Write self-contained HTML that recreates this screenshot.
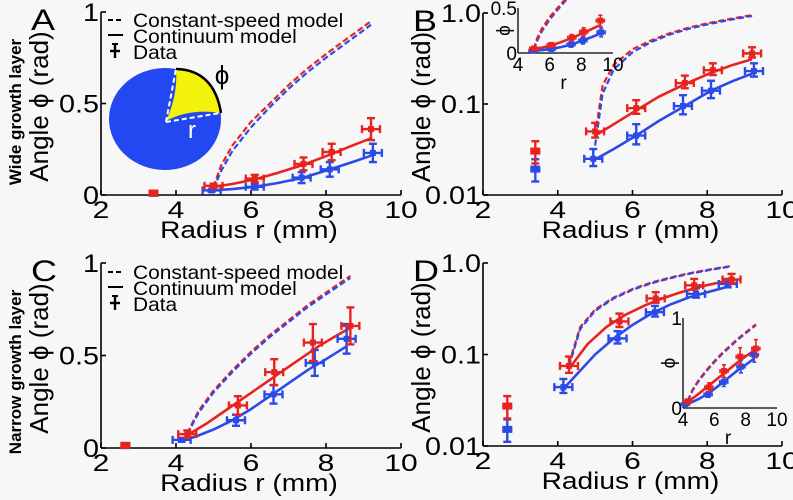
<!DOCTYPE html>
<html><head><meta charset="utf-8">
<style>
html,body{margin:0;padding:0;background:#f7f7f7;}
svg{display:block;font-family:"Liberation Sans",sans-serif;}
</style></head>
<body>
<svg id="fig" width="793" height="500" viewBox="0 0 793 500" xmlns="http://www.w3.org/2000/svg">
<rect width="793" height="500" fill="#f7f7f7"/>
</svg>
<script>
// ---- Data: wide growth layer (A/B) ----
const wideRedX = [5.0, 6.1, 7.4, 8.15, 9.2];
const wideRedY = [0.05, 0.09, 0.17, 0.235, 0.36];
const wideRedErr = [0.012, 0.02, 0.035, 0.045, 0.06];
const wideBlueX = [4.95, 6.1, 7.35, 8.1, 9.25];
const wideBlueY = [0.025, 0.045, 0.095, 0.14, 0.23];
const wideBlueErr = [0.007, 0.015, 0.03, 0.04, 0.05];
const wideOutX = [3.4];
const wideOutRed = [0.03];
const wideOutBlue = [0.019];
const wideRedLineX = [5.0, 5.5, 6.1, 6.7, 7.4, 8.1, 8.7, 9.2];
const wideRedLineY = [0.045, 0.06, 0.085, 0.12, 0.165, 0.22, 0.27, 0.31];
const wideBlueLineX = [4.95, 5.5, 6.1, 6.7, 7.4, 8.1, 8.7, 9.2];
const wideBlueLineY = [0.024, 0.032, 0.045, 0.065, 0.095, 0.14, 0.18, 0.215];
const wideDashX = [5.0, 5.2, 5.5, 6.0, 6.5, 7.0, 7.5, 8.0, 8.6, 9.2];
const wideDashRedY = [0.045, 0.16, 0.27, 0.4, 0.5, 0.6, 0.69, 0.77, 0.86, 0.95];
const wideDashBlueY = [0.035, 0.13, 0.24, 0.37, 0.48, 0.58, 0.67, 0.75, 0.84, 0.93];
// ---- Data: narrow growth layer (C/D) ----
const narRedX = [4.3, 5.65, 6.62, 7.65, 8.65];
const narRedY = [0.075, 0.23, 0.41, 0.57, 0.66];
const narRedErr = [0.02, 0.05, 0.07, 0.1, 0.1];
const narBlueX = [4.15, 5.6, 6.6, 7.7, 8.55];
const narBlueY = [0.044, 0.15, 0.29, 0.46, 0.59];
const narBlueErr = [0.01, 0.03, 0.05, 0.07, 0.08];
const narOutX = [2.65];
const narOutRed = [0.027];
const narOutBlue = [0.015];
const narRedLineX = [4.3, 4.8, 5.3, 5.8, 6.3, 6.8, 7.3, 7.8, 8.3, 8.65];
const narRedLineY = [0.07, 0.13, 0.2, 0.27, 0.34, 0.41, 0.48, 0.55, 0.61, 0.65];
const narBlueLineX = [4.1, 4.5, 5.0, 5.5, 6.0, 6.5, 7.0, 7.5, 8.0, 8.55];
const narBlueLineY = [0.04, 0.06, 0.1, 0.15, 0.21, 0.28, 0.35, 0.42, 0.48, 0.55];
const narDashX = [4.3, 4.6, 5.0, 5.5, 6.0, 6.5, 7.0, 7.5, 8.0, 8.65];
const narDashRedY = [0.08, 0.2, 0.31, 0.42, 0.52, 0.61, 0.69, 0.77, 0.84, 0.93];
const narDashBlueY = [0.075, 0.19, 0.3, 0.41, 0.51, 0.6, 0.68, 0.76, 0.83, 0.92];
// ---- Tick labels ----
const xTicks = [2, 4, 6, 8, 10];
const linTicks = [0, 0.5, 1];
const linTickLabels = ["0", "0.5", "1"];
const logTicks = [0.01, 0.1, 1.0];
const logTickLabels = ["0.01", "0.1", "1.0"];
const insetXTicks = [4, 6, 8, 10];

const NS = "http://www.w3.org/2000/svg";
const svg = document.getElementById("fig");
const RED = "#e8231f", BLUE = "#2b4ae8";
const PHI = "\u03d5";
function mk(tag, attrs, parent) {
  const e = document.createElementNS(NS, tag);
  for (const k in attrs) e.setAttribute(k, attrs[k]);
  (parent || svg).appendChild(e);
  return e;
}
function txt(s, x, y, size, anchor, parent, extra) {
  const t = mk("text", Object.assign({x: x, y: y, "font-size": size, "text-anchor": anchor || "middle", fill: "#000"}, extra || {}), parent);
  t.textContent = s;
  return t;
}
// stretched text (reference glyphs are horizontally stretched)
function stxt(s, x, y, size, anchor, parent, sx) {
  return txt(s, 0, 0, size, anchor, parent, {transform: "translate(" + x + "," + y + ") scale(" + sx + ",1)"});
}
function makeAxes(x0, x1, xmin, xmax, y0, y1, ymin, ymax, log) {
  const sx = v => x0 + (v - xmin) / (xmax - xmin) * (x1 - x0);
  const sy = log ? (v => y0 - (Math.log10(v) - Math.log10(ymin)) / (Math.log10(ymax) - Math.log10(ymin)) * (y0 - y1))
                 : (v => y0 - (v - ymin) / (ymax - ymin) * (y0 - y1));
  return {sx, sy};
}
function line(ax, xs, ys, color, dashed, g, name, clip) {
  let d = "";
  xs.forEach((x, i) => { d += (i ? "L" : "M") + ax.sx(x).toFixed(1) + "," + ax.sy(ys[i]).toFixed(1); });
  const p = mk("path", {d: d, fill: "none", stroke: color, "stroke-width": dashed ? 2.2 : 2.6, "stroke-dasharray": dashed ? "6,3" : "none"}, g);
  if (clip) p.setAttribute("clip-path", clip);
  
  
}
function points(ax, xs, ys, errs, color, g, name, log, hw, cap, sw) {
  xs.forEach((x, i) => {
    const cx = ax.sx(x), cy = ax.sy(ys[i]);
    const lo = log ? ys[i] - errs[i] * 0.6 : ys[i] - errs[i];
    const top = ax.sy(ys[i] + errs[i]);
    const bot = ax.sy(Math.max(lo, log ? 0.001 : ys[i] - errs[i]));
    const pg = mk("g", {stroke: color, "stroke-width": sw || 2.4, fill: "none"}, g);
    
    
    mk("line", {x1: cx, y1: top, x2: cx, y2: bot}, pg);
    mk("line", {x1: cx - cap, y1: top, x2: cx + cap, y2: top}, pg);
    mk("line", {x1: cx - cap, y1: bot, x2: cx + cap, y2: bot}, pg);
    mk("line", {x1: cx - hw, y1: cy, x2: cx + hw, y2: cy}, pg);
    mk("line", {x1: cx - hw, y1: cy - cap, x2: cx - hw, y2: cy + cap}, pg);
    mk("line", {x1: cx + hw, y1: cy - cap, x2: cx + hw, y2: cy + cap}, pg);
    mk("rect", {x: cx - 3, y: cy - 3, width: 6, height: 6, fill: color, stroke: "none"}, pg);
  });
}
function outliers(ax, xs, ys, color, g, name, log) {
  xs.forEach((x, i) => {
    const cx = ax.sx(x), cy = ax.sy(ys[i]);
    const pg = mk("g", {stroke: color, "stroke-width": 2.4}, g);
    
    
    if (log) {
      const t = ax.sy(ys[i] * 1.3), b = ax.sy(ys[i] / 1.35);
      mk("line", {x1: cx, y1: t, x2: cx, y2: b}, pg);
      mk("line", {x1: cx - 4, y1: t, x2: cx + 4, y2: t}, pg);
      mk("line", {x1: cx - 4, y1: b, x2: cx + 4, y2: b}, pg);
      mk("line", {x1: cx - 5, y1: cy, x2: cx + 5, y2: cy}, pg);
    }
    mk("rect", {x: cx - 5, y: cy - 4, width: 10, height: 7, fill: color, stroke: "none"}, pg);
  });
}

function panel(opts) {
  const g = mk("g", {});
  
  
  const ax = makeAxes(opts.x0, opts.x1, 2, 10, opts.y0, opts.y1, opts.ymin, opts.ymax, opts.log);
  const cid = opts.name + "-clip";
  const cp = mk("clipPath", {id: cid}, g);
  mk("rect", {x: opts.x0, y: opts.y1 - 4, width: opts.x1 - opts.x0 + 10, height: opts.y0 - opts.y1 + 4}, cp);
  const axg = mk("g", {stroke: "#000", "stroke-width": 1.6}, g);
  
  
  mk("line", {x1: opts.x0, y1: opts.y0, x2: opts.x1, y2: opts.y0}, axg);
  mk("line", {x1: opts.x0, y1: opts.y0, x2: opts.x0, y2: opts.y1}, axg);
  xTicks.forEach(v => {
    mk("line", {x1: ax.sx(v), y1: opts.y0, x2: ax.sx(v), y2: opts.y0 - 5}, axg);
    const t = stxt(String(v), ax.sx(v), opts.y0 + 23, 24, "middle", g, 1.25);
    
    
  });
  const yt = opts.log ? logTicks : linTicks;
  const yl = opts.log ? logTickLabels : linTickLabels;
  yt.forEach((v, i) => {
    mk("line", {x1: opts.x0, y1: ax.sy(v), x2: opts.x0 + 5, y2: ax.sy(v)}, axg);
    const t = stxt(yl[i], opts.x0 - 2, ax.sy(v) + 9, 25, "end", g, 1.15);
    
    
  });
  const xt = stxt("Radius r (mm)", (opts.x0 + opts.x1) / 2 - 2, opts.y0 + 43, 24, "middle", g, 1.17);
  
  
  const ytl = txt("Angle " + PHI + "  (rad)", 0, 0, 26, "middle", g, {transform: "translate(" + (opts.x0 - 53) + "," + ((opts.y0 + opts.y1) / 2 + 3) + ") rotate(-90)"});
  
  
  const lt = stxt(opts.letter, opts.x0 - 70, opts.y1 + 18, 30, "start", g, 1.2);
  
  
  const d = opts.data;
  line(ax, d.dashX, d.dashRed, RED, true, g, "constant-speed-red", "url(#" + cid + ")");
  line(ax, d.dashX, d.dashBlue, BLUE, true, g, "constant-speed-blue", "url(#" + cid + ")");
  line(ax, d.rlx, d.rly, RED, false, g, "continuum-red");
  line(ax, d.blx, d.bly, BLUE, false, g, "continuum-blue");
  outliers(ax, d.ox, d.oBlue, BLUE, g, "outlier-blue", opts.log);
  outliers(ax, d.ox, d.oRed, RED, g, "outlier-red", opts.log);
  points(ax, d.bx, d.by, d.be, BLUE, g, "data-blue", opts.log, 9, 4);
  points(ax, d.rx, d.ry, d.re, RED, g, "data-red", opts.log, 9, 4);
  return g;
}
function inset(opts) {
  const g = mk("g", {});
  
  
  const ax = makeAxes(opts.x0, opts.x1, 4, 10, opts.y0, opts.y1, 0, opts.ymax, false);
  const cid = opts.name + "-clip";
  const cp = mk("clipPath", {id: cid}, g);
  mk("rect", {x: opts.x0, y: 0, width: opts.x1 - opts.x0, height: opts.y0 + 2}, cp);
  const axg = mk("g", {stroke: "#000", "stroke-width": 1.3}, g);
  mk("line", {x1: opts.x0, y1: opts.y0, x2: opts.x1, y2: opts.y0}, axg);
  mk("line", {x1: opts.x0, y1: opts.y0, x2: opts.x0, y2: opts.y1}, axg);
  insetXTicks.forEach(v => {
    const t = txt(String(v), ax.sx(v), opts.y0 + 18, 19, "middle", g);
    
    
  });
  [0, opts.ymax].forEach(v => {
    const t = txt(String(v), opts.x0 - 1, ax.sy(v) + 7, 19, "end", g);
    
    
  });
  txt("r", (opts.x0 + opts.x1) / 2 - 2, opts.y0 + 36, 19, "middle", g);
  txt(PHI, opts.x0 - 14, (opts.y0 + opts.y1) / 2 + 6, 19, "middle", g, {transform: "rotate(-90 " + (opts.x0 - 14) + " " + ((opts.y0 + opts.y1) / 2) + ")"});
  const d = opts.data;
  const cl = "url(#" + cid + ")";
  line(ax, d.dashX, d.dashRed, RED, true, g, "inset-dash-red", cl);
  line(ax, d.dashX, d.dashBlue, "#7a3aa0", true, g, "inset-dash-blue", cl);
  line(ax, d.rlx, d.rly, RED, false, g, "inset-red", cl);
  line(ax, d.blx, d.bly, BLUE, false, g, "inset-blue", cl);
  points(ax, d.bx, d.by, d.be, BLUE, g, "inset-blue-pt", false, 4, 2, 1.6);
  points(ax, d.rx, d.ry, d.re, RED, g, "inset-red-pt", false, 4, 2, 1.6);
}
const wide = {dashX: wideDashX, dashRed: wideDashRedY, dashBlue: wideDashBlueY, rlx: wideRedLineX, rly: wideRedLineY, blx: wideBlueLineX, bly: wideBlueLineY,
  ox: wideOutX, oRed: wideOutRed, oBlue: wideOutBlue, rx: wideRedX, ry: wideRedY, re: wideRedErr, bx: wideBlueX, by: wideBlueY, be: wideBlueErr};
const nar = {dashX: narDashX, dashRed: narDashRedY, dashBlue: narDashBlueY, rlx: narRedLineX, rly: narRedLineY, blx: narBlueLineX, bly: narBlueLineY,
  ox: narOutX, oRed: narOutRed, oBlue: narOutBlue, rx: narRedX, ry: narRedY, re: narRedErr, bx: narBlueX, by: narBlueY, be: narBlueErr};
const wideLin = Object.assign({}, wide, {oRed: [0.008], oBlue: [0.006]});
const narLin = Object.assign({}, nar, {oRed: [0.012], oBlue: [0.01]});

const pie = mk("g", {});


mk("ellipse", {cx: 165, cy: 119, rx: 56, ry: 51, fill: "#2347f0"}, pie);
mk("path", {d: "M166,121 Q178,95 176,69 Q214,70 221,113 Q190,108 166,121 Z", fill: "#f2f20a"}, pie);
mk("path", {d: "M176,69 Q214,70 221,113", fill: "none", stroke: "#000", "stroke-width": 2.5}, pie);
mk("line", {x1: 166, y1: 122, x2: 176, y2: 69, stroke: "#fff", "stroke-width": 2, "stroke-dasharray": "5,3"}, pie);
mk("line", {x1: 166, y1: 122, x2: 220, y2: 113, stroke: "#fff", "stroke-width": 2, "stroke-dasharray": "5,3"}, pie);
txt("r", 192, 138, 24, "middle", pie, {fill: "#fff"});
txt(PHI, 222, 84, 26, "middle", pie);

panel({name: "panel-a", letter: "A", x0: 101, x1: 401, y0: 195, y1: 12, ymin: 0, ymax: 1, log: false, data: wideLin});
panel({name: "panel-b", letter: "B", x0: 483, x1: 782, y0: 195, y1: 13, ymin: 0.01, ymax: 1, log: true, data: wide});
panel({name: "panel-c", letter: "C", x0: 101, x1: 401, y0: 448, y1: 263, ymin: 0, ymax: 1, log: false, data: narLin});
panel({name: "panel-d", letter: "D", x0: 483, x1: 782, y0: 446, y1: 263, ymin: 0.01, ymax: 1, log: true, data: nar});
inset({name: "inset-b", x0: 518, x1: 613, y0: 53, y1: 8, ymax: 0.5, data: wide});
inset({name: "inset-d", x0: 683, x1: 777, y0: 408, y1: 318, ymax: 1, data: nar});

[[108, 18, "legend-a"], [108, 270, "legend-c"]].forEach(([lx, ly, nm]) => {
  const g = mk("g", {});
  
  
  mk("line", {x1: lx, y1: ly + 2, x2: lx + 15, y2: ly + 2, stroke: "#000", "stroke-width": 2, "stroke-dasharray": "5,3"}, g);
  mk("line", {x1: lx, y1: ly + 17, x2: lx + 15, y2: ly + 17, stroke: "#000", "stroke-width": 2}, g);
  mk("line", {x1: lx + 7, y1: ly + 26, x2: lx + 7, y2: ly + 40, stroke: "#000", "stroke-width": 2.4}, g);
  mk("line", {x1: lx + 2, y1: ly + 33, x2: lx + 12, y2: ly + 33, stroke: "#000", "stroke-width": 2.4}, g);
  mk("line", {x1: lx + 4, y1: ly + 26, x2: lx + 10, y2: ly + 26, stroke: "#000", "stroke-width": 2}, g);
  stxt("Constant-speed model", lx + 25, ly + 9, 19, "start", g, 1.1);
  stxt("Continuum model", lx + 25, ly + 25, 19, "start", g, 1.1);
  stxt("Data", lx + 25, ly + 41, 19, "start", g, 1.1);
});
const r1 = txt("Wide growth layer", 0, 0, 17, "middle", null, {"font-weight": "bold", transform: "translate(21,112) rotate(-90)"});


const r2 = txt("Narrow growth layer", 0, 0, 17, "middle", null, {"font-weight": "bold", transform: "translate(21,372) rotate(-90)"});


</script>
</body></html>
